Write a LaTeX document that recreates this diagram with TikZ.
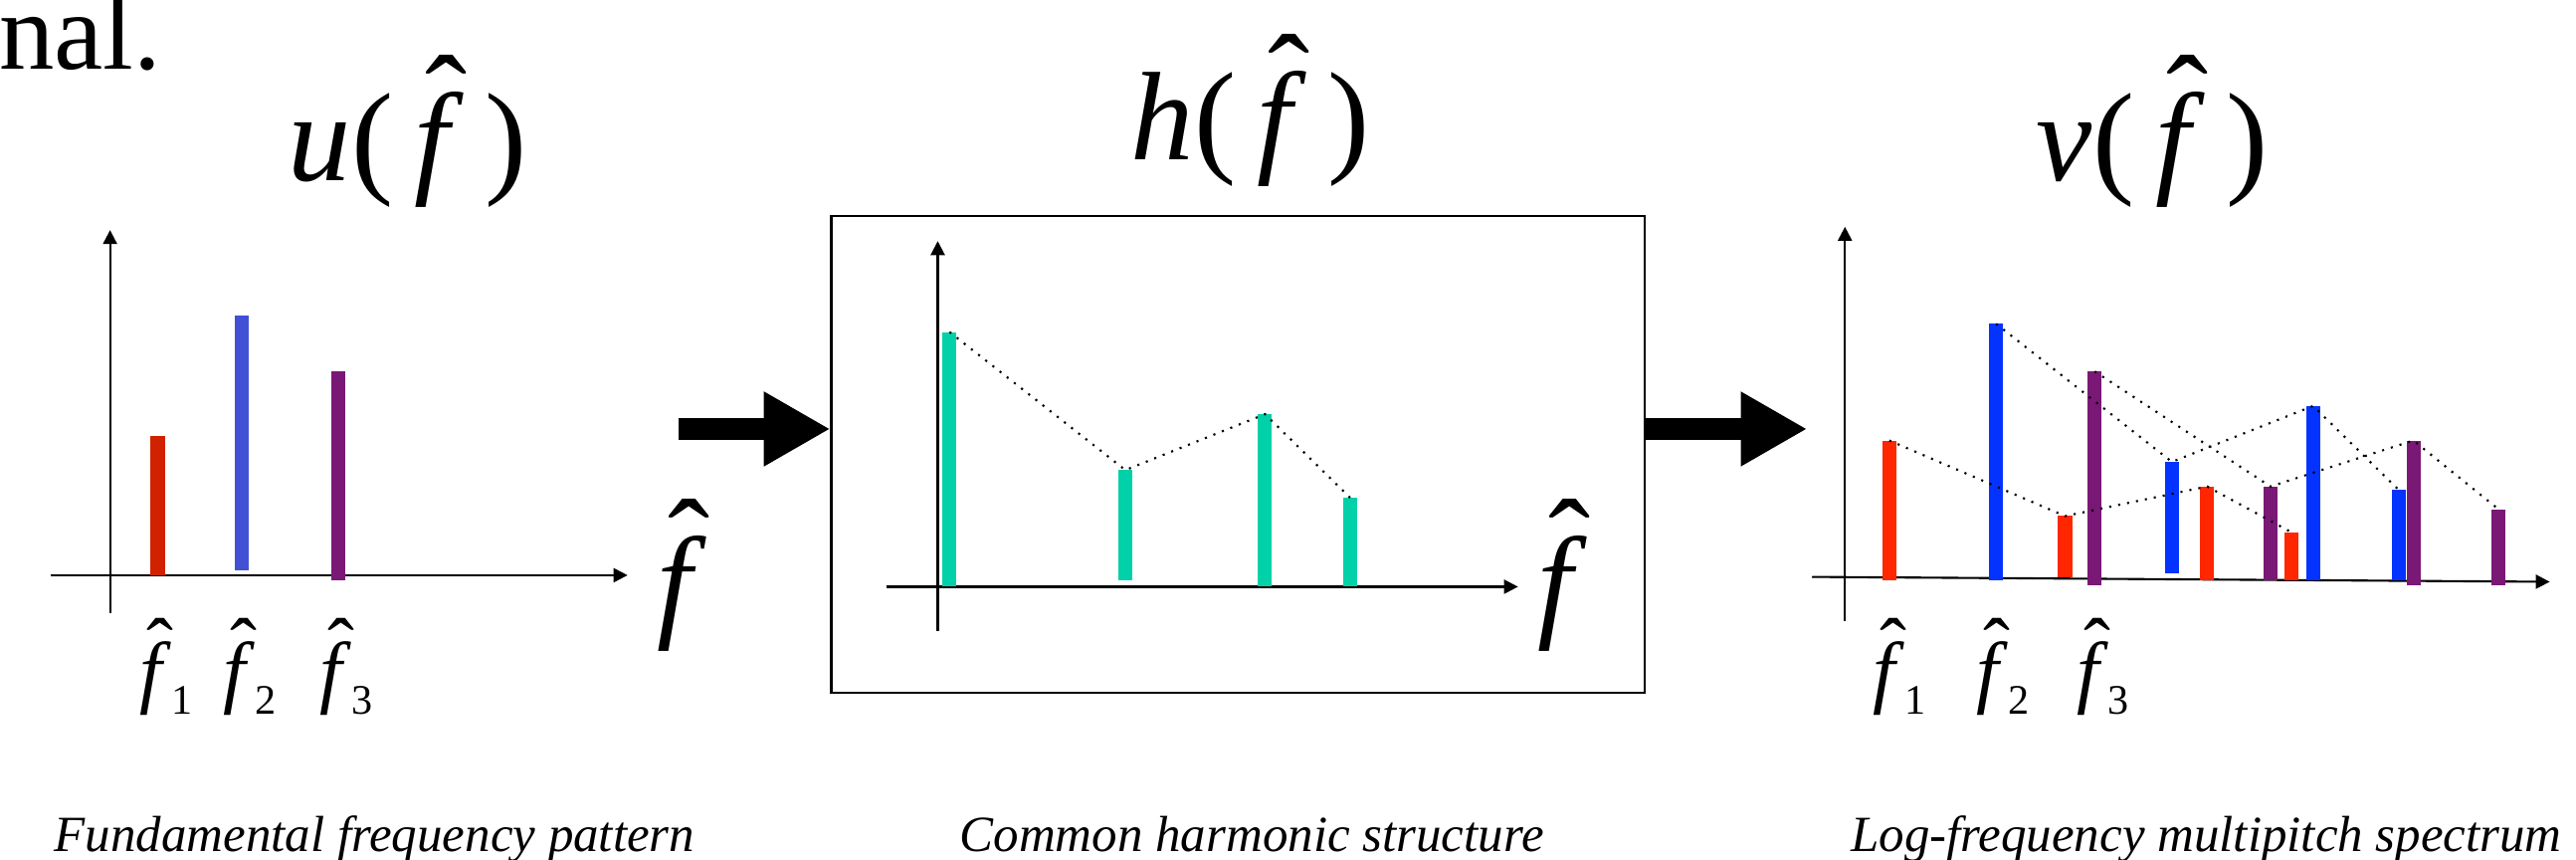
\documentclass[tikz,border=0pt]{standalone}
\usepackage{fontspec}
\setmainfont{Liberation Serif}
\usetikzlibrary{arrows.meta}

\definecolor{redA}{RGB}{208,34,0}
\definecolor{blueA}{RGB}{66,80,214}
\definecolor{redB}{RGB}{255,38,0}
\definecolor{blueB}{RGB}{4,51,255}
\definecolor{purp}{RGB}{122,24,118}
\definecolor{harm}{RGB}{0,209,168}

\newcommand{\fhat}{\makebox[0pt][l]{\hspace{0.09em}\raisebox{0.3em}{ˆ}}\textit{f}}
\newcommand{\fsub}[1]{\fhat\raisebox{-0.2em}{\fontsize{12}{12}\selectfont #1}}

\begin{document}
\begin{tikzpicture}[x=0.1651mm, y=-0.1651mm, >={Triangle[length=4pt,width=4pt]},
    axis/.style={line width=0.6pt, ->},
    peak/.style={line width=4pt},
    link/.style={dotted, line width=0.6pt},
    bigarrow/.style={line width=6.3pt, -{Triangle[length=19pt,width=20pt]}},
    fname/.style={anchor=base, font=\fontsize{36}{40}\selectfont},
    peaklabel/.style={anchor=base, font=\fontsize{23}{26}\selectfont},
    capt/.style={anchor=base, font=\fontsize{14.5}{16}\selectfont\itshape}]
    \useasboundingbox (0,0) rectangle (1568,523);
    \node[anchor=base west, inner sep=0, font=\fontsize{31.5}{34}\selectfont] (cut) at (-1,42) {nal.};
    % fundamental frequency pattern
    \draw[axis] (67,373) -- (67,140);
    \draw[axis] (31,350) -- (382,350);
    \draw[peak, redA] (96,350) -- (96,265) coordinate (u1);
    \draw[peak, blueA] (147,347) -- (147,192) coordinate (u2);
    \draw[peak, purp] (206,353) -- (206,226) coordinate (u3);
    \node[fname] (utitle) at (248,110) {\textit{u}(\,\fhat\,)};
    \node[fname] (ufreq) at (415,380) {\fhat};
    \node[peaklabel] (ulab1) at (101,425) {\fsub{1}};
    \node[peaklabel] (ulab2) at (152,425) {\fsub{2}};
    \node[peaklabel] (ulab3) at (211,425) {\fsub{3}};
    \node[capt] (ucap) at (228,518) {Fundamental frequency pattern};
    % common harmonic structure
    \node[draw, line width=0.6pt, minimum width=232.5pt, minimum height=136.3pt, inner sep=0] (hbox) at (753.5,276.6) {};
    \draw[axis] (570.8,384) -- (570.8,146.7);
    \draw[axis] (539.5,357) -- (924,357);
    \draw[peak, harm] (578,357) -- (578,202) coordinate (h1);
    \draw[peak, harm] (685,353) -- (685,286) coordinate (h2);
    \draw[peak, harm] (770,357) -- (770,252) coordinate (h3);
    \draw[peak, harm] (822,357) -- (822,303) coordinate (h4);
    \draw[link] (h1) -- (h2) -- (h3) -- (h4);
    \node[fname] (htitle) at (761,97) {\textit{h}(\,\fhat\,)};
    \node[fname] (hfreq) at (951,380) {\fhat};
    \node[capt] (hcap) at (762,518) {Common harmonic structure};
    \coordinate (in) at (413,261);
    \coordinate (out) at (1100,261);
    \draw[bigarrow] (in) -- (in -| hbox.west);
    \draw[bigarrow] (out -| hbox.east) -- (out);
    % log-frequency multipitch spectrum
    \draw[axis] (1123,378) -- (1123,138);
    \draw[axis] (1103,351) -- (1552,354);
    \foreach \x/\t/\b/\c/\n in {1150/268/353/redB/r1, 1215/197/353/blueB/b1,
        1257/314/351/redB/r2, 1275/226/356/purp/p1, 1322/281/349/blueB/b2,
        1343.5/296/353/redB/r3, 1382/296/353/purp/p2, 1395/324/353/redB/r4,
        1408/247/353/blueB/b3, 1460/298/353/blueB/b4, 1469/268/356/purp/p3,
        1521/310/356/purp/p4}
        \draw[peak, \c] (\x,\b) -- (\x,\t) coordinate (\n);
    \draw[link] (r1) -- (r2) -- (r3) -- (r4);
    \draw[link] (b1) -- (b2) -- (b3) -- (b4);
    \draw[link] (p1) -- (p2) -- (p3) -- (p4);
    \node[fname] (vtitle) at (1310,110) {\textit{v}(\,\fhat\,)};
    \node[fname] (vfreq) at (1584,380) {\fhat};
    \node[peaklabel] (vlab1) at (1156,425) {\fsub{1}};
    \node[peaklabel] (vlab2) at (1219,425) {\fsub{2}};
    \node[peaklabel] (vlab3) at (1280,425) {\fsub{3}};
    \node[capt] (vcap) at (1343,518) {Log-frequency multipitch spectrum};
\end{tikzpicture}
\end{document}
